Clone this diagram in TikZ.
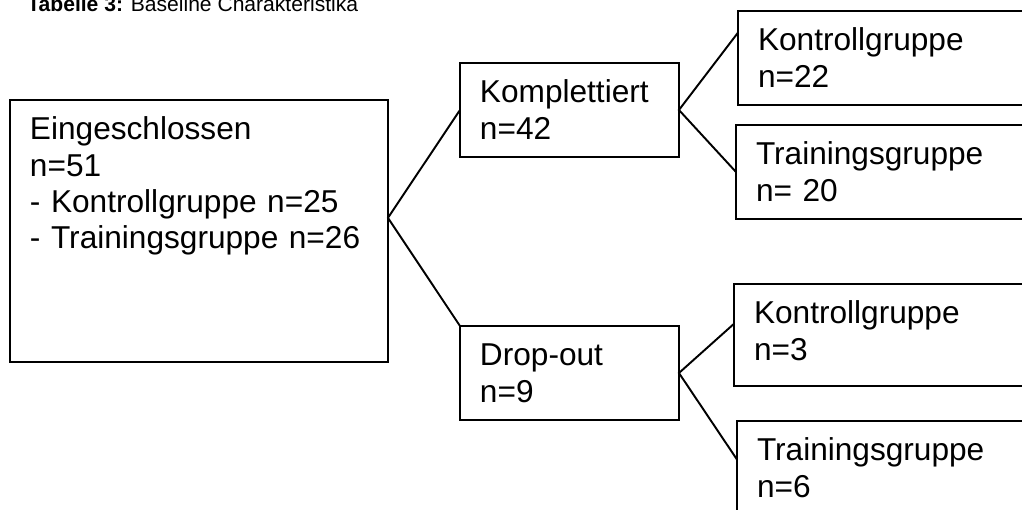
\documentclass[tikz,border=0pt]{standalone}
\usepackage{fontspec}
\setmainfont{Liberation Sans}
\usetikzlibrary{calc}

\begin{document}
\begin{tikzpicture}[x=0.02cm,y=-0.02cm,
	gbox/.style={rectangle,draw=black,line width=1.1pt,anchor=north west,outer sep=0pt,inner xsep=0.4cm,inner ysep=0pt,align=left,text height=0.8cm,text depth=1.08cm,font=\fontsize{18}{20.5}\selectfont},
	conn/.style={line width=1.1pt}]
		\useasboundingbox (0,0) rectangle (1022,510);
		\clip (0,0) rectangle (1022,510);
		\node[anchor=base west,inner sep=0pt,font=\fontsize{12}{14}\selectfont] (title) at (27,12) {\textbf{Tabelle 3:} Baseline Charakteristika};
		\node[gbox,text width=6.76cm,text depth=4.44cm] (ein) at (10,100) {Eingeschlossen\\n=51\\- Kontrollgruppe n=25\\- Trainingsgruppe n=26};
		\node[gbox,text width=3.58cm] (komp) at (460,63) {Komplettiert\\n=42};
		\node[gbox,text width=3.58cm] (drop) at (460,326) {Drop-out\\n=9};
		\node[gbox,text width=5.6cm] (kg1) at (738,11) {Kontrollgruppe\\n=22};
		\node[gbox,text width=5.6cm] (tg1) at (736,125) {Trainingsgruppe\\n= 20};
		\node[gbox,text width=5.6cm,text depth=1.24cm] (kg2) at (734,284) {Kontrollgruppe\\n=3};
		\node[gbox,text width=5.6cm] (tg2) at (737,421) {Trainingsgruppe\\n=6};
		\coordinate (fork) at ($(ein.north east)!0.45!(ein.south east)$);
		\draw[conn] (komp.west) -- (fork) -- (drop.north west);
		\draw[conn] ($(kg1.north west)!0.23!(kg1.south west)$) -- (komp.east) -- (tg1.west);
		\draw[conn] ($(kg2.north west)!0.39!(kg2.south west)$) -- (drop.east) -- ($(tg2.north west)!0.41!(tg2.south west)$);
	\end{tikzpicture}
\end{document}
